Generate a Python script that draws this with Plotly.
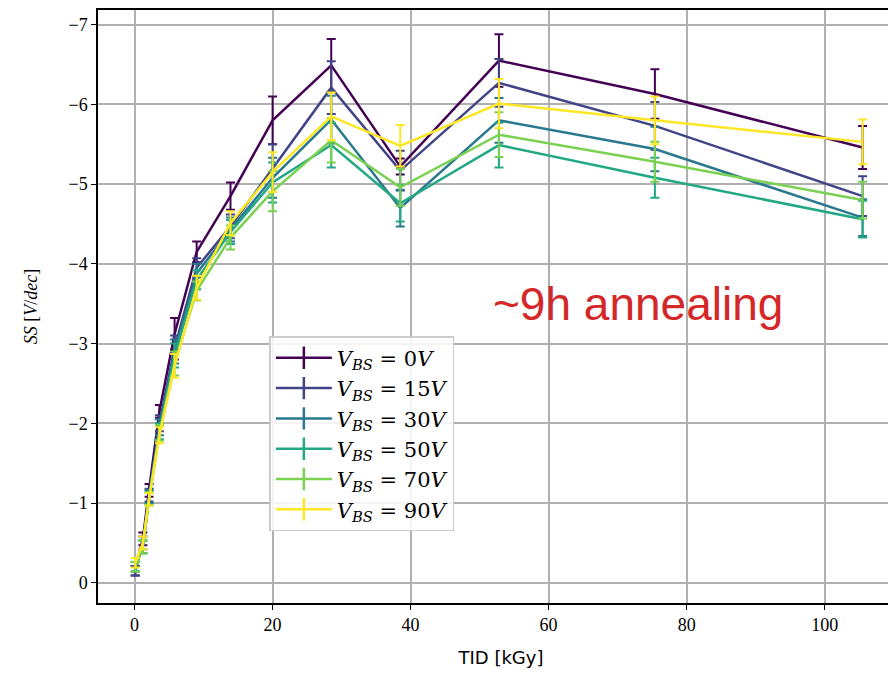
import plotly.graph_objects as go

# ---- data ----
tid = [0.1, 1.2, 2.1, 3.6, 5.8, 9.0, 13.9, 20.0, 28.5, 38.5, 52.8, 75.4, 105.5]

labels = ["0", "15", "30", "50", "70", "90"]
colors = ["#440154", "#414487", "#2a788e", "#22a884", "#7ad151", "#fde725"]

ss_0V  = [-0.15, -0.55, -1.16, -2.15, -3.12, -4.15, -4.85, -5.80, -6.49, -5.22, -6.55, -6.13, -5.46]
ss_15V = [-0.15, -0.50, -1.10, -2.00, -2.95, -3.95, -4.47, -5.20, -6.21, -5.17, -6.27, -5.73, -4.85]
ss_30V = [-0.20, -0.45, -1.08, -1.95, -2.90, -3.88, -4.43, -5.08, -5.81, -4.70, -5.80, -5.44, -4.58]
ss_50V = [-0.20, -0.45, -1.06, -1.90, -2.85, -3.80, -4.40, -5.02, -5.49, -4.76, -5.49, -5.08, -4.56]
ss_70V = [-0.20, -0.45, -1.05, -1.88, -2.75, -3.66, -4.33, -4.91, -5.55, -4.96, -5.62, -5.28, -4.80]
ss_90V = [-0.25, -0.50, -1.05, -1.85, -2.72, -3.70, -4.51, -5.15, -5.85, -5.48, -6.01, -5.80, -5.53]

err_0V  = [0.06, 0.08, 0.08, 0.08, 0.20, 0.13, 0.17, 0.30, 0.33, 0.10, 0.33, 0.31, 0.27]
err_15V = [0.06, 0.08, 0.08, 0.10, 0.15, 0.12, 0.15, 0.30, 0.33, 0.25, 0.30, 0.30, 0.25]
err_30V = [0.06, 0.08, 0.08, 0.10, 0.15, 0.12, 0.15, 0.25, 0.30, 0.23, 0.28, 0.28, 0.23]
err_50V = [0.06, 0.08, 0.08, 0.10, 0.15, 0.12, 0.15, 0.25, 0.28, 0.23, 0.28, 0.25, 0.23]
err_70V = [0.06, 0.08, 0.08, 0.10, 0.15, 0.12, 0.15, 0.25, 0.28, 0.23, 0.28, 0.25, 0.23]
err_90V = [0.06, 0.08, 0.08, 0.10, 0.15, 0.15, 0.15, 0.25, 0.30, 0.26, 0.31, 0.30, 0.28]

series = [ss_0V, ss_15V, ss_30V, ss_50V, ss_70V, ss_90V]
errors = [err_0V, err_15V, err_30V, err_50V, err_70V, err_90V]

SERIF = "Liberation Serif, DejaVu Serif, serif"

fig = go.Figure()
for lab, col, ys, es in zip(labels, colors, series, errors):
    fig.add_trace(go.Scatter(
        x=tid, y=ys, mode="lines",
        line=dict(color=col, width=2.5),
        error_y=dict(type="data", array=es, visible=True, color=col,
                     thickness=2, width=4.5),
        showlegend=False,
    ))
# legend entries (line with vertical error-bar glyph)
for lab, col in zip(labels, colors):
    fig.add_trace(go.Scatter(
        x=[None], y=[None], mode="lines+markers",
        line=dict(color=col, width=2.5),
        marker=dict(symbol="line-ns-open", size=16,
                    line=dict(color=col, width=2.5), color=col),
        name=f"<i>V</i><sub><i>BS</i></sub>&nbsp;=&nbsp;{lab}<i>V</i>",
    ))

fig.add_annotation(
    x=72.9, y=-3.5, xref="x", yref="y", text="~9h annealing",
    showarrow=False, font=dict(family="Liberation Sans, Arial, sans-serif",
                               size=46, color="#d62728"),
)

fig.update_layout(
    width=896, height=665,
    margin=dict(l=90, r=0, t=0, b=70),
    plot_bgcolor="white", paper_bgcolor="white",
    legend=dict(x=0.2126, y=0.45, xanchor="left", yanchor="top",
                bgcolor="rgba(255,255,255,0.85)", bordercolor="#cccccc",
                borderwidth=1.5,
                font=dict(family="DejaVu Serif, serif", size=21, color="black"),
                tracegroupgap=0, itemwidth=56),
)
fig.update_xaxes(
    range=[-5.3, 111.5], tickvals=[0, 20, 40, 60, 80, 100],
    showgrid=True, gridcolor="#b0b0b0", gridwidth=1.5,
    showline=True, linecolor="black", linewidth=1.5, mirror=True,
    ticks="outside", ticklen=5, tickwidth=1.2, tickcolor="black",
    tickfont=dict(family=SERIF, size=18, color="black"),
    zeroline=False,
    title=dict(text="TID [kGy]", standoff=17,
               font=dict(family="DejaVu Sans, sans-serif", size=18, color="black")),
)
fig.update_yaxes(
    range=[0.254, -7.184], tickvals=[0, -1, -2, -3, -4, -5, -6, -7],
    showgrid=True, gridcolor="#b0b0b0", gridwidth=1.5,
    showline=True, linecolor="black", linewidth=1.5, mirror=False,
    ticks="outside", ticklen=5, tickwidth=1.2, tickcolor="black",
    tickfont=dict(family=SERIF, size=18, color="black"),
    zeroline=False,
    title=dict(text="<i>SS</i> [<i>V</i>/<i>dec</i>]", standoff=26,
               font=dict(family=SERIF, size=18, color="black")),
)

fig.write_html("out.html")
